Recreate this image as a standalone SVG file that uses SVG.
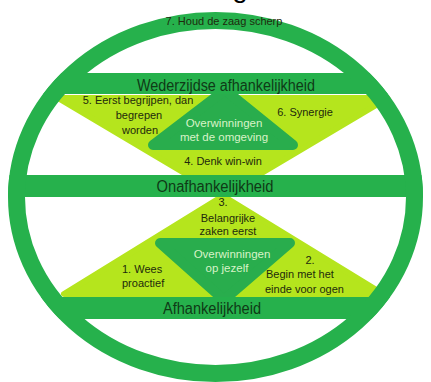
<svg xmlns="http://www.w3.org/2000/svg" width="431" height="382" viewBox="0 0 431 382">
<defs>
<style>
.band{fill:#26b14c}
.light{fill:#b5e51d;stroke:#b5e51d;stroke-width:6;stroke-linejoin:round}
.dark{fill:#29ad4d;stroke:#29ad4d;stroke-width:10;stroke-linejoin:round}
text{font-family:"Liberation Sans",Arial,sans-serif;text-anchor:middle}
.big{font-size:16px;fill:#0f3a16}
.sm{font-size:11px;fill:#1e2a0c}
.ov{font-size:11.5px;fill:#d8f3c8}
.l{text-anchor:start}
</style>
<clipPath id="outer"><ellipse cx="215.5" cy="197" rx="207.5" ry="185"/></clipPath>
</defs>
<text x="240" y="-3" style="font-size:28px;fill:#000">g</text>
<g id="triangles" clip-path="url(#outer)">
<polygon class="light" points="58,98 388,98 223,196"/>
<polygon class="light" points="64,294 383,294 223,196"/>
<polygon class="dark" points="225,90 153,145 293,145"/>
<polygon class="dark" points="160,243 290,243 224,300"/>
</g>
<g id="bands" clip-path="url(#outer)">
<rect class="band" x="0" y="73" width="431" height="21"/>
<rect class="band" x="0" y="175" width="431" height="22"/>
<rect class="band" x="0" y="297" width="431" height="22"/>
</g>
<g id="ring">
<ellipse cx="215.5" cy="197" rx="199" ry="176.5" fill="none" stroke="#26b14c" stroke-width="17"/>
</g>
<g id="labels">
<text class="sm" x="224" y="25">7. Houd de zaag scherp</text>
<text class="big" x="226" y="91" textLength="178" lengthAdjust="spacingAndGlyphs">Wederzijdse afhankelijkheid</text>
<text class="sm" x="138" y="104">5. Eerst begrijpen, dan</text>
<text class="sm" x="139" y="119">begrepen</text>
<text class="sm" x="140" y="134">worden</text>
<text class="sm" x="305" y="116">6. Synergie</text>
<text class="ov" x="224" y="127">Overwinningen</text>
<text class="ov" x="224" y="141">met de omgeving</text>
<text class="sm" x="223" y="165">4. Denk win-win</text>
<text class="big" x="215" y="192" textLength="117" lengthAdjust="spacingAndGlyphs">Onafhankelijkheid</text>
<text class="sm" x="223" y="206">3.</text>
<text class="sm" x="228" y="222">Belangrijke</text>
<text class="sm" x="228" y="235">zaken eerst</text>
<text class="ov" x="232" y="258">Overwinningen</text>
<text class="ov" x="227" y="272">op jezelf</text>
<text class="sm l" x="122" y="273">1. Wees</text>
<text class="sm l" x="122" y="287">proactief</text>
<text class="sm" x="310" y="264">2.</text>
<text class="sm l" x="266" y="278">Begin met het</text>
<text class="sm l" x="265" y="293">einde voor ogen</text>
<text class="big" x="212" y="314" textLength="98" lengthAdjust="spacingAndGlyphs">Afhankelijkheid</text>
</g>
</svg>
